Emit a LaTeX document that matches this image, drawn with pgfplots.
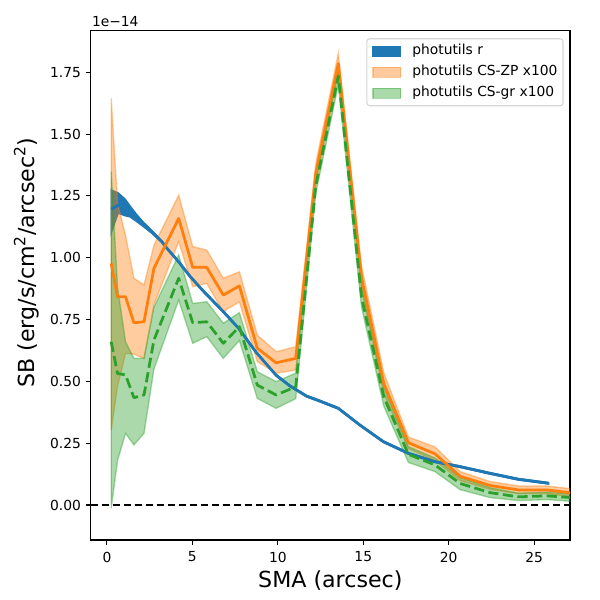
\documentclass[border=0pt]{standalone}
\usepackage{fontspec}
\setmainfont{DejaVu Sans}
\usepackage{pgfplots}
\pgfplotsset{compat=1.18}
\usepackage{pgfplotstable}
\usepgfplotslibrary{fillbetween}
\definecolor{cblue}{HTML}{1F77B4}
\definecolor{corange}{HTML}{FF7F0E}
\definecolor{cgreen}{HTML}{2CA02C}

\pgfplotstableread{
x c u l
0.25 1.196 1.274 1.100
0.66 1.212 1.262 1.180
1.05 1.205 1.238 1.170
1.35 1.188 1.210 1.165
1.70 1.163 1.178 1.148
2.13 1.135 1.144 1.126
2.62 1.105 1.111 1.099
3.20 1.066 1.070 1.062
3.49 1.040 1.043 1.037
4.20 0.983 0.986 0.980
4.86 0.925 0.928 0.922
5.64 0.865 0.868 0.862
6.81 0.782 0.785 0.779
7.70 0.715 0.718 0.712
8.76 0.615 0.618 0.612
9.90 0.525 0.528 0.522
10.70 0.482 0.485 0.479
11.69 0.440 0.443 0.437
12.40 0.422 0.425 0.419
13.54 0.391 0.394 0.388
14.81 0.323 0.326 0.320
16.18 0.256 0.259 0.253
17.64 0.209 0.212 0.206
19.20 0.175 0.178 0.172
20.67 0.155 0.158 0.152
22.42 0.128 0.131 0.125
24.08 0.104 0.107 0.101
25.85 0.088 0.091 0.085
}\bluedata

\pgfplotstableread{
x c u l
0.25 0.977 1.644 0.303
0.62 0.842 1.220 0.480
1.09 0.842 1.090 0.613
1.58 0.737 0.917 0.610
2.17 0.741 0.890 0.593
2.75 0.957 1.050 0.810
4.20 1.159 1.253 1.065
5.02 0.961 1.045 0.883
5.84 0.961 1.031 0.896
6.81 0.849 0.917 0.782
7.75 0.886 0.943 0.822
8.80 0.634 0.687 0.580
9.90 0.575 0.620 0.533
11.05 0.593 0.640 0.546
12.22 1.340 1.380 1.300
13.54 1.785 1.826 1.745
14.90 0.920 0.965 0.875
16.20 0.492 0.535 0.450
17.64 0.252 0.275 0.228
19.20 0.207 0.235 0.180
20.67 0.116 0.135 0.099
22.42 0.079 0.095 0.063
24.08 0.061 0.077 0.046
25.74 0.061 0.077 0.046
27.40 0.047 0.064 0.032
}\orangedata

\pgfplotstableread{
x c u l
0.25 0.660 1.348 -0.013
0.62 0.532 0.880 0.180
1.09 0.526 0.660 0.290
1.58 0.434 0.593 0.243
2.17 0.445 0.593 0.290
2.75 0.667 0.800 0.550
4.20 0.917 1.011 0.829
5.02 0.737 0.815 0.654
5.84 0.741 0.822 0.681
6.81 0.654 0.735 0.593
7.75 0.721 0.778 0.665
8.80 0.485 0.539 0.431
9.90 0.445 0.499 0.391
11.05 0.478 0.533 0.430
12.22 1.290 1.320 1.260
13.54 1.735 1.770 1.700
14.90 0.840 0.885 0.800
16.20 0.438 0.478 0.400
17.64 0.205 0.236 0.172
19.20 0.162 0.190 0.135
20.67 0.087 0.112 0.062
22.42 0.050 0.070 0.030
24.08 0.033 0.048 0.018
25.74 0.037 0.052 0.022
27.40 0.029 0.044 0.014
}\greendata

\begin{document}
\begin{tikzpicture}
\begin{axis}[
  at={(65.55pt,43.36pt)}, anchor=south west,
  scale only axis, width=346.4pt, height=367.9pt,
  xmin=-0.95, xmax=27.1, ymin=-0.1415, ymax=1.917,
  axis line style={line width=0.8pt},
  tick align=outside, xtick pos=bottom, ytick pos=left,
  major tick length=3.5pt,
  every tick/.style={black, line width=0.8pt},
  xtick={0,5,10,15,20,25},
  ytick={0,0.25,0.5,0.75,1,1.25,1.5,1.75},
  /pgf/number format/assume math mode=true,
  yticklabel style={/pgf/number format/.cd, fixed, fixed zerofill, precision=2},
  tick label style={font=\fontsize{10}{12}\selectfont},
  xticklabel style={yshift=-1.5pt},
  xlabel={SMA (arcsec)},
  ylabel={SB (erg/s/cm\textsuperscript{2}/arcsec\textsuperscript{2})},
  every axis x label/.style={at={(axis description cs:0.5,-0.0935)}, anchor=base, font=\fontsize{16}{19}\selectfont},
  every axis y label/.style={at={(axis description cs:-0.118,0.545)}, anchor=base, rotate=90, font=\fontsize{16}{19}\selectfont},
  legend style={at={(rel axis cs:0.9866,0.9857)}, anchor=north east,
    draw=black!16, line width=0.8pt, rounded corners=2pt, fill=white,
    inner xsep=4pt, inner ysep=4pt, row sep=5.2pt, column sep=8pt,
    font=\fontsize{10}{12}\selectfont,
    nodes={inner sep=0pt, text height=7.5pt, text depth=2.5pt, anchor=west}},
  legend cell align=left,
  legend image code/.code={\draw[sharp corners, #1] (0pt,-3.5pt) rectangle (20pt,3.5pt);},
]
% bands
\addplot[draw=none, name path=bu, forget plot] table[x=x,y=u]{\bluedata};
\addplot[draw=none, name path=bl, forget plot] table[x=x,y=l]{\bluedata};
\addplot[fill=cblue, draw=cblue, line width=1pt, forget plot] fill between[of=bu and bl];
\addplot[draw=none, name path=ou, forget plot] table[x=x,y=u]{\orangedata};
\addplot[draw=none, name path=ol, forget plot] table[x=x,y=l]{\orangedata};
\addplot[fill=corange, fill opacity=0.4, draw=corange, draw opacity=0.4, line width=1pt, forget plot] fill between[of=ou and ol];
\addplot[draw=none, name path=gu, forget plot] table[x=x,y=u]{\greendata};
\addplot[draw=none, name path=gl, forget plot] table[x=x,y=l]{\greendata};
\addplot[fill=cgreen, fill opacity=0.4, draw=cgreen, draw opacity=0.4, line width=1pt, forget plot] fill between[of=gu and gl];
% lines
\addplot[cblue, line width=2pt, line join=round, forget plot] table[x=x,y=c]{\bluedata};
\addplot[corange, line width=2pt, line join=round, forget plot] table[x=x,y=c]{\orangedata};
\addplot[cgreen, line width=2pt, line join=round, dash pattern=on 7.4pt off 3.2pt, forget plot] table[x=x,y=c]{\greendata};
\addplot[black, line width=1.5pt, dash pattern=on 5.55pt off 2.4pt, forget plot] coordinates {(-0.95,0) (27.1,0)};
% legend
\addlegendimage{fill=cblue, draw=cblue, line width=0.8pt}
\addlegendentry{photutils r}
\addlegendimage{fill=corange, fill opacity=0.4, draw=corange, draw opacity=0.4, line width=0.8pt}
\addlegendentry{photutils CS-ZP x100}
\addlegendimage{fill=cgreen, fill opacity=0.4, draw=cgreen, draw opacity=0.4, line width=0.8pt}
\addlegendentry{photutils CS-gr x100}
\end{axis}
\node[anchor=base west, inner sep=0pt, font=\fontsize{10}{12}\selectfont] at (66.3pt,414.8pt) {1e−14};
\pgfresetboundingbox
\path (0pt,0pt) rectangle (433.62pt,433.62pt);
\end{tikzpicture}
\end{document}
